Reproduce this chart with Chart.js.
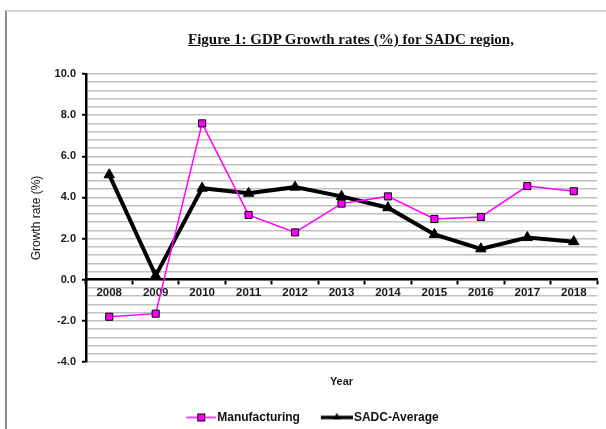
<!DOCTYPE html>
<html>
<head>
<meta charset="utf-8">
<script src="https://cdn.jsdelivr.net/npm/chart.js@4.4.1/dist/chart.umd.min.js"></script>
<style>
  html, body { margin: 0; padding: 0; background: #fff; overflow: hidden; }
  #wrap { position: relative; width: 606px; height: 429px; overflow: hidden; }
  #frame { position: absolute; left: 5px; top: 10px; width: 700px; height: 500px;
           border-left: 2px solid #8c8c8c; border-top: 2px solid #d4d4d4; }
  #title { position: absolute; left: 0; width: 702px; top: 30px; text-align: center;
           font: bold 15px "Liberation Serif", "Times New Roman", serif; line-height: 19px;
           text-decoration: underline; color: #111; }
  #chartBox { position: absolute; left: 0; top: 0; width: 606px; height: 429px; }
</style>
</head>
<body>
<div id="wrap">
  <div id="frame"></div>
  <div id="chartBox"><canvas id="gdpChart"></canvas></div>
  <div id="title">Figure 1: GDP Growth rates (%) for SADC region,</div>
</div>
<script>
// data
const years = ['2008', '2009', '2010', '2011', '2012', '2013', '2014', '2015', '2016', '2017', '2018'];
const manufacturing = [-1.8, -1.65, 7.6, 3.15, 2.3, 3.7, 4.05, 2.95, 3.05, 4.55, 4.3];
const sadcAverage = [5.1, 0.2, 4.45, 4.2, 4.5, 4.05, 3.5, 2.2, 1.5, 2.05, 1.85];
const yMin = -4, yMax = 10, gridStep = 0.4, labelStep = 2;

const sans = '"Liberation Sans", Arial, sans-serif';
const boldFont = { family: sans, size: 11, weight: 'bold' };
const isMajor = v => Math.abs(v / labelStep - Math.round(v / labelStep)) < 1e-6;

// small legend samples: line with marker (left 6px kept empty so the sample sits a bit right)
function makeIcon(draw) {
    const c = document.createElement('canvas');
    c.width = 38; c.height = 12;
    draw(c.getContext('2d'));
    return c;
}
const manuIcon = makeIcon(g => {
    g.strokeStyle = '#ff00ff'; g.lineWidth = 1.5;
    g.beginPath(); g.moveTo(8, 6); g.lineTo(38, 6); g.stroke();
    g.fillStyle = '#ff00ff'; g.fillRect(19.5, 2.5, 7, 7);
    g.strokeStyle = '#000'; g.lineWidth = 1; g.strokeRect(19.5, 2.5, 7, 7);
});
const sadcIcon = makeIcon(g => {
    g.strokeStyle = '#000'; g.lineWidth = 3.5;
    g.beginPath(); g.moveTo(6, 6); g.lineTo(38, 6); g.stroke();
    g.fillStyle = '#000';
    g.beginPath(); g.moveTo(22, 1.5); g.lineTo(26, 8); g.lineTo(18, 8); g.closePath(); g.fill();
});
const legendIcons = [manuIcon, sadcIcon];

new Chart(document.getElementById('gdpChart').getContext('2d'), {
    type: 'line',
    data: {
        labels: years,
        datasets: [
            {
                label: 'Manufacturing',
                data: manufacturing,
                borderColor: '#ff00ff',
                borderWidth: 1.5,
                pointStyle: 'rect',
                pointRadius: 5,
                pointBackgroundColor: '#ff00ff',
                pointBorderColor: '#000',
                pointBorderWidth: 1,
                tension: 0,
                fill: false
            },
            {
                label: 'SADC-Average',
                data: sadcAverage,
                borderColor: '#000',
                borderWidth: 4,
                pointStyle: 'triangle',
                pointRadius: 6,
                pointBackgroundColor: '#000',
                pointBorderColor: '#000',
                pointBorderWidth: 1,
                tension: 0,
                fill: false
            }
        ]
    },
    options: {
        responsive: true,
        maintainAspectRatio: false,
        animation: false,
        layout: { padding: { left: 25, right: 9, top: 74, bottom: 0 } },
        scales: {
            x: {
                position: { y: 0 },
                offset: true,
                grid: { offset: true, drawOnChartArea: false, drawTicks: true, tickLength: 4, tickWidth: 2, tickColor: '#000' },
                border: { display: true, color: '#000', width: 2.5 },
                ticks: { color: '#1a1a1a', font: { family: sans, size: 11.5, weight: 'bold' }, padding: 2, maxRotation: 0, autoSkip: false }
            },
            xYear: {
                type: 'category',
                position: 'bottom',
                offset: true,
                grid: { display: false, drawTicks: false, tickLength: 0 },
                border: { display: false },
                ticks: { display: false },
                title: { display: true, text: 'Year', color: '#1a1a1a', font: boldFont, padding: { top: 13, bottom: 3.3 } }
            },
            y: {
                min: yMin,
                max: yMax,
                afterFit(scale) { scale.width = 61; },
                ticks: {
                    stepSize: gridStep,
                    maxTicksLimit: 40,
                    autoSkip: false,
                    color: '#1a1a1a',
                    font: boldFont,
                    padding: 6,
                    callback: v => isMajor(v) ? v.toFixed(1) : ''
                },
                grid: {
                    color: '#c0c0c0',
                    lineWidth: 1.5,
                    drawTicks: true,
                    tickLength: 4,
                    tickWidth: 2,
                    tickColor: ctx => isMajor(ctx.tick.value) ? '#000' : 'rgba(0,0,0,0)'
                },
                border: { color: '#000', width: 2.5 },
                title: {
                    display: true,
                    text: 'Growth rate (%)',
                    color: '#111',
                    font: { family: sans, size: 12 },
                    padding: { top: 4, bottom: 0 }
                }
            }
        },
        plugins: {
            tooltip: { enabled: false },
            legend: {
                position: 'bottom',
                maxHeight: 37.5,
                labels: {
                    usePointStyle: true,
                    pointStyleWidth: 28,
                    padding: 20,
                    color: '#111',
                    font: { family: sans, size: 12, weight: 'bold' },
                    generateLabels(chart) {
                        const items = Chart.defaults.plugins.legend.labels.generateLabels(chart);
                        items.forEach((it, i) => { it.pointStyle = legendIcons[i]; });
                        return items;
                    }
                }
            }
        }
    }
});
</script>
</body>
</html>
